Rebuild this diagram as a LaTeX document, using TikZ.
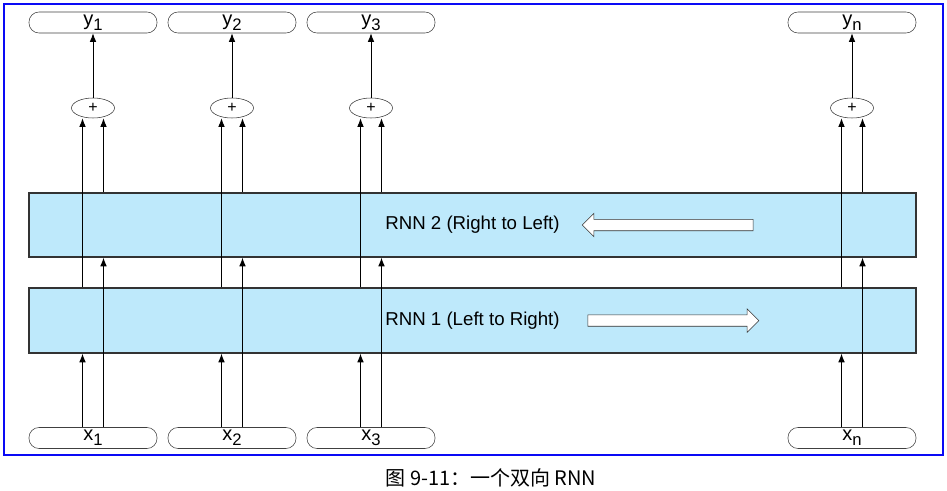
\documentclass[tikz,border=0pt]{standalone}
\usepackage{fontspec}
\setmainfont{Liberation Sans}
\newfontfamily\cjk{Noto Sans CJK SC}
\usetikzlibrary{arrows.meta,shapes.geometric,shapes.arrows}
\definecolor{rnnblue}{RGB}{190,233,251}
\definecolor{framebl}{RGB}{10,10,245}
\newcommand{\sublbl}[2]{\raisebox{2pt}{#1\raisebox{-4pt}{\fontsize{12.5}{12.5}\selectfont #2}}}
\begin{document}
\begin{tikzpicture}[x=0.75pt,y=-0.75pt,
  pill/.style={draw=black!75,rounded corners=7.5pt,minimum width=96pt,minimum height=15.75pt,inner sep=0pt,font=\fontsize{15}{15}\selectfont},
  sum/.style={ellipse,draw=black!80,minimum width=32.25pt,minimum height=15pt,inner sep=0pt,font=\fontsize{12}{12}\selectfont},
  layer/.style={draw=black!80,line width=0.9pt,fill=rnnblue,minimum width=665.25pt,inner sep=0pt,font=\fontsize{14}{14}\selectfont},
  hollow/.style={single arrow,draw=black!80,fill=white,minimum height=128.25pt,minimum width=17.25pt,inner sep=4.1pt,single arrow head extend=4.5pt},
  arr/.style={-{Latex[length=6.5pt,width=5pt]},line width=0.7pt}]
\useasboundingbox (0,0) rectangle (947,490);
\draw[framebl,line width=1.5pt] (4,4) rectangle (943,455);

\node[layer,minimum height=48pt] (rnn2) at (472.5,225) {RNN 2 (Right to Left)};
\node[layer,minimum height=48.75pt] (rnn1) at (472.5,320.5) {RNN 1 (Left to Right)};
\node[hollow,shape border rotate=180] (back) at (670.5,225) {};
\node[hollow] (fwd) at (670.5,320.5) {};

\foreach \c/\cx in {1/93,2/232,3/371,n/852}{
  \node[pill] (y\c) at (\cx,22.5) {\sublbl{y}{\c}};
  \node[pill] (x\c) at (\cx,438) {\sublbl{x}{\c}};
  \node[sum] (sum\c) at (\cx,108) {+};
  \coordinate (l\c) at (\cx-10.5,0);
  \coordinate (r\c) at (\cx+10.5,0);
  \draw[arr] (x\c.north -| l\c) -- (rnn1.south -| l\c);
  \draw[arr] (rnn1.north -| l\c) -- (sum\c.south -| l\c);
  \draw[arr] (x\c.north -| r\c) -- (rnn2.south -| r\c);
  \draw[arr] (rnn2.north -| r\c) -- (sum\c.south -| r\c);
  \draw[arr] (sum\c) -- (y\c);
}

\node[font=\cjk\fontsize{15}{15}\selectfont] (caption) at (491,478) {图\ 9-11：一个双向 RNN};
\end{tikzpicture}
\end{document}
